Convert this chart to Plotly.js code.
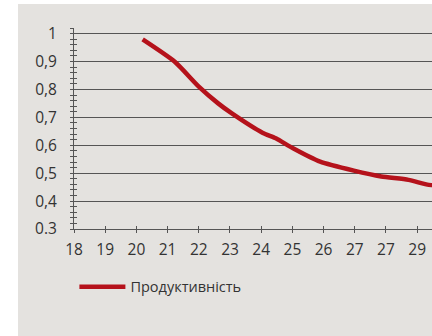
<!DOCTYPE html>
<html>
<head>
<meta charset="utf-8">
<script src="https://cdn.plot.ly/plotly-3.0.1.min.js"></script>
<style>
  html, body { margin: 0; padding: 0; background: #ffffff; overflow: hidden; width: 432px; height: 336px; }
  #chart { position: absolute; left: 18px; top: 4px; width: 470px; height: 332px; background: #e4e2df; }
</style>
</head>
<body>
<div id="chart"></div>
<script>
// Productivity curve by age
const ages = [20.2, 21.23, 22.0, 22.62, 23.06, 24.04, 24.47, 25.02, 25.89, 26.97, 27.85, 28.72, 29.37, 29.7, 30.2];
const productivity = [0.979, 0.899, 0.81, 0.75, 0.714, 0.645, 0.625, 0.589, 0.541, 0.509, 0.488, 0.476, 0.458, 0.457, 0.455];

const xTickVals = [18, 19, 20, 21, 22, 23, 24, 25, 26, 27, 28, 29, 30];
const xTickText = ["18", "19", "20", "21", "22", "23", "24", "25", "26", "27", "27", "29", "30"];
const yTickVals = [0.3, 0.4, 0.5, 0.6, 0.7, 0.8, 0.9, 1.0];
const yTickText = ["0.3", "0,4", "0,5", "0,6", "0,7", "0,8", "0,9", "1"];

const seriesName = "Продуктивність";

const axisColor = "#555555";
const textColor = "#333333";
const xRange = [18, 31.27];
const yRange = [0.3, 1.02];

const curve = {
  x: ages,
  y: productivity,
  name: seriesName,
  type: "scatter",
  mode: "lines",
  line: { color: "#b5121b", width: 4.5, shape: "spline", smoothing: 0.6 },
  showlegend: true
};

// empty helper traces so the overlaid tick-only axes get drawn
const tickHelper = (xa, ya) => ({
  x: [null], y: [null], xaxis: xa, yaxis: ya,
  type: "scatter", mode: "lines", showlegend: false, hoverinfo: "skip"
});

// crossing ticks: one axis draws inward, another outward
const tickAxisX = (side) => ({
  overlaying: "x", anchor: "y", range: xRange,
  tickmode: "array", tickvals: xTickVals,
  ticks: side, ticklen: 3, tickwidth: 1, tickcolor: axisColor,
  showticklabels: false, showline: false, showgrid: false, zeroline: false
});
const tickAxisY = (side) => ({
  overlaying: "y", anchor: "x", range: yRange,
  tickmode: "linear", tick0: 0.3, dtick: 0.02,
  ticks: side, ticklen: 3, tickwidth: 1, tickcolor: axisColor,
  showticklabels: false, showline: false, showgrid: false, zeroline: false
});

const layout = {
  width: 470,
  height: 332,
  paper_bgcolor: "#e4e2df",
  plot_bgcolor: "#e4e2df",
  margin: { l: 55.5, r: 0, t: 23.7, b: 106.7 },
  font: { family: "Open Sans", size: 15.5, color: textColor },
  showlegend: true,
  legend: {
    orientation: "h",
    xref: "container", yref: "container",
    x: 0.12, y: 0.148,
    xanchor: "left", yanchor: "middle",
    bgcolor: "rgba(0,0,0,0)",
    font: { family: "Open Sans", size: 14.5, color: textColor },
    itemwidth: 46
  },
  xaxis: {
    range: xRange,
    tickmode: "array",
    tickvals: xTickVals,
    ticktext: xTickText,
    ticks: "", 
    showline: true, linecolor: axisColor, linewidth: 1,
    showgrid: false, zeroline: false,
    ticklabelstandoff: 6,
    tickfont: { family: "Open Sans", size: 15.5, color: textColor },
    fixedrange: true
  },
  xaxis2: tickAxisX("inside"),
  xaxis3: tickAxisX("outside"),
  yaxis: {
    range: yRange,
    tickmode: "array",
    tickvals: yTickVals,
    ticktext: yTickText,
    ticks: "",
    showline: true, linecolor: axisColor, linewidth: 1,
    showgrid: true, gridcolor: axisColor, gridwidth: 1,
    zeroline: false,
    ticklabelstandoff: 13,
    tickfont: { family: "Open Sans", size: 15.5, color: textColor },
    fixedrange: true
  },
  yaxis2: tickAxisY("inside"),
  yaxis3: tickAxisY("outside")
};

Plotly.newPlot("chart",
  [tickHelper("x2", "y2"), tickHelper("x3", "y3"), curve],
  layout, { displayModeBar: false, staticPlot: true });
</script>
</body>
</html>
